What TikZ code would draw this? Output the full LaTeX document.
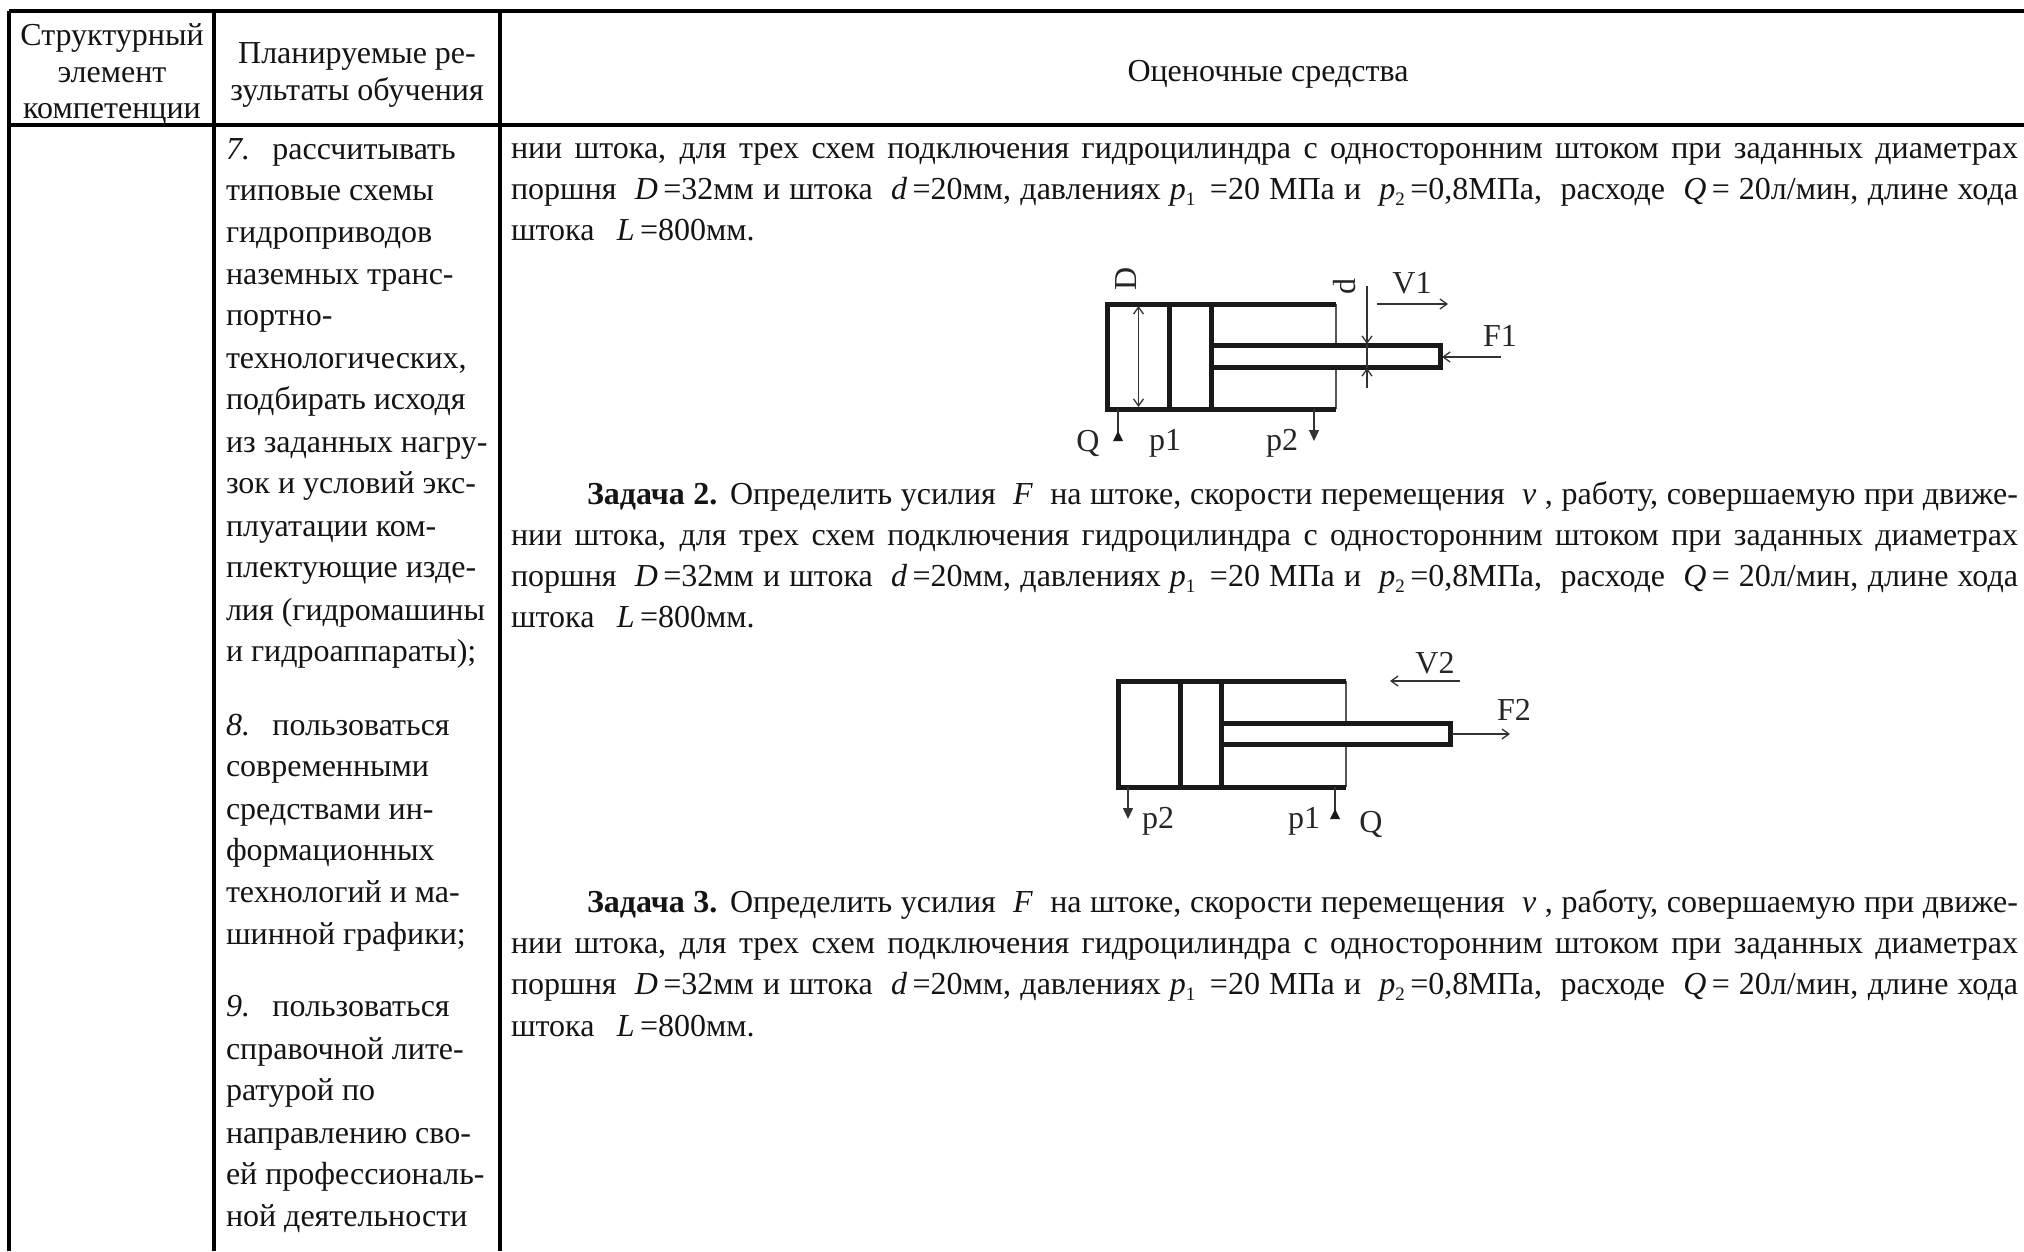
\documentclass[tikz,border=0pt]{standalone}
\usepackage{fontspec}
\setmainfont{Liberation Serif}
\usetikzlibrary{arrows.meta}
\newcommand{\sbs}[1]{\raisebox{-6pt}{\fontsize{19}{19}\selectfont #1}}
\newcommand{\tsz}{\fontsize{32}{38}\selectfont}
\newcommand{\jl}[1]{\makebox[1507pt][s]{#1}}
\newcommand{\LA}{\jl{нии штока, для трех схем подключения гидроцилиндра с односторонним штоком при заданных диаметрах}}
\newcommand{\LB}{\jl{поршня \ \textit{D}\,=32мм и штока \ \textit{d}\,=20мм, давлениях \textit{p}\sbs{1} \,=20 МПа и \ \textit{p}\sbs{2}\,=0,8МПа, \ расходе \ \textit{Q}\,= 20л/мин, длине хода}}
\newcommand{\LC}{штока \hspace{0.45em}\textit{L}\,=800мм.}
\newcommand{\LT}[1]{\makebox[1431pt][s]{\textbf{Задача #1.} Определить усилия \ \textit{F} \ на штоке, скорости перемещения \ \textit{v} , работу, совершаемую при движе-}}
\tikzset{
  x=1pt,y=-1pt,
  grid/.style={line width=3.6pt,black},
  txt/.style={inner sep=0pt,outer sep=0pt,anchor=base west,font=\tsz,text=black!92},
  ctr/.style={inner sep=0pt,outer sep=0pt,anchor=base,font=\tsz,text=black!92},
  wall/.style={line width=5pt,black!90,line join=miter},
  thinwall/.style={line width=2.8pt,black!65},
  ln/.style={line width=1.3pt,black!80},
  open/.style={ln,-{Straight Barb[length=7pt,width=10pt]}},
  openboth/.style={ln,{Straight Barb[length=7pt,width=10pt]}-{Straight Barb[length=7pt,width=10pt]}},
  solid tip/.style={ln,-{Triangle[length=11pt,width=10pt]}},
  uptri/.style={fill=black!90,draw=none},
  lab/.style={inner sep=0pt,outer sep=0pt,font=\fontsize{32}{32}\selectfont,text=black!85},
}
\begin{document}
\begin{tikzpicture}
\useasboundingbox (0,0) rectangle (2024,1251);
% table grid
\draw[grid] (9,11) -- (2024,11);
\draw[grid] (9,125) -- (2024,125);
\draw[grid] (9,11) -- (9,1251);
\draw[grid] (214,11) -- (214,1251);
\draw[grid] (500,11) -- (500,1251);
% header
\node[ctr] (h1a) at (112,45) {Структурный};
\node[ctr] (h1b) at (112,82) {элемент};
\node[ctr] (h1c) at (112,118) {компетенции};
\node[ctr] (h2a) at (357,63) {Планируемые ре-};
\node[ctr] (h2b) at (357,100) {зультаты обучения};
\node[ctr] (h3) at (1268,81) {Оценочные средства};
% column 2
\node[txt] (c1) at (226,159) {\textit{7.}\hspace{0.7em}рассчитывать};
\node[txt] (c2) at (226,200) {типовые схемы};
\node[txt] (c3) at (226,242) {гидроприводов};
\node[txt] (c4) at (226,284) {наземных транс-};
\node[txt] (c5) at (226,325) {портно-};
\node[txt] (c6) at (226,368) {технологических,};
\node[txt] (c7) at (226,409) {подбирать исходя};
\node[txt] (c8) at (226,452) {из заданных нагру-};
\node[txt] (c9) at (226,493) {зок и условий экс-};
\node[txt] (c10) at (226,536) {плуатации ком-};
\node[txt] (c11) at (226,577) {плектующие изде-};
\node[txt] (c12) at (226,620) {лия (гидромашины};
\node[txt] (c13) at (226,661) {и гидроаппараты);};
\node[txt] (c14) at (226,735) {\textit{8.}\hspace{0.7em}пользоваться};
\node[txt] (c15) at (226,776) {современными};
\node[txt] (c16) at (226,819) {средствами ин-};
\node[txt] (c17) at (226,860) {формационных};
\node[txt] (c18) at (226,902) {технологий и ма-};
\node[txt] (c19) at (226,944) {шинной графики;};
\node[txt] (c20) at (226,1016) {\textit{9.}\hspace{0.7em}пользоваться};
\node[txt] (c21) at (226,1059) {справочной лите-};
\node[txt] (c22) at (226,1100) {ратурой по};
\node[txt] (c23) at (226,1143) {направлению сво-};
\node[txt] (c24) at (226,1184) {ей профессиональ-};
\node[txt] (c25) at (226,1226) {ной деятельности};
% column 3
\node[txt] (a1) at (511,158) {\LA};
\node[txt] (a2) at (511,199) {\LB};
\node[txt] (a3) at (511,240) {\LC};
\node[txt] (b0) at (587,504) {\LT{2}};
\node[txt] (b1) at (511,545) {\LA};
\node[txt] (b2) at (511,586) {\LB};
\node[txt] (b3) at (511,627) {\LC};
\node[txt] (d0) at (587,912) {\LT{3}};
\node[txt] (d1) at (511,953) {\LA};
\node[txt] (d2) at (511,994) {\LB};
\node[txt] (d3) at (511,1036) {\LC};
% cylinder 1
\draw[thinwall] (1336,304) -- (1336,345);
\draw[thinwall] (1336,367) -- (1336,409);
\draw[wall] (1336,304) -- (1107,304) -- (1107,409) -- (1336,409);
\draw[wall] (1169,304) -- (1169,409);
\draw[wall] (1211,304) -- (1211,409);
\draw[wall] (1211,345.5) -- (1440,345.5) -- (1440,367) -- (1211,367);
\draw[openboth] (1138.5,306) -- (1138.5,407);
\draw[open] (1367,286) -- (1367,344);
\draw[open] (1367,388) -- (1367,368);
\draw[ln] (1367,344) -- (1367,368);
\draw[open] (1377,304) -- (1448,304);
\draw[open] (1501,357) -- (1442,357);
\draw[ln] (1118,409) -- (1118,435);
\fill[uptri] (1118,431) -- (1123,441) -- (1113,441) -- cycle;
\draw[solid tip] (1314,409) -- (1314,441);
\node[lab,rotate=90] (D1) at (1126,279) {D};
\node[lab,rotate=90] (d1l) at (1345,286) {d};
\node[lab] (V1) at (1412,283) {V1};
\node[lab] (F1) at (1500,336) {F1};
\node[lab] (Q1) at (1088,443) {Q};
\node[lab] (p1a) at (1165,443) {p1};
\node[lab] (p2a) at (1282,443) {p2};
% cylinder 2
\draw[thinwall] (1346,681) -- (1346,723);
\draw[thinwall] (1346,744) -- (1346,787);
\draw[wall] (1346,681) -- (1118,681) -- (1118,787) -- (1346,787);
\draw[wall] (1180,681) -- (1180,787);
\draw[wall] (1221.5,681) -- (1221.5,787);
\draw[wall] (1221.5,723) -- (1450,723) -- (1450,744) -- (1221.5,744);
\draw[open] (1460,681) -- (1390,681);
\draw[open] (1452,734) -- (1510,734);
\draw[solid tip] (1128,787) -- (1128,819);
\draw[ln] (1335,787) -- (1335,813);
\fill[uptri] (1335,809) -- (1340,819) -- (1330,819) -- cycle;
\node[lab] (V2) at (1435,663) {V2};
\node[lab] (F2) at (1514,710) {F2};
\node[lab] (p2b) at (1158,821) {p2};
\node[lab] (p1b) at (1304,821) {p1};
\node[lab] (Q2) at (1371,824) {Q};
\end{tikzpicture}
\end{document}
